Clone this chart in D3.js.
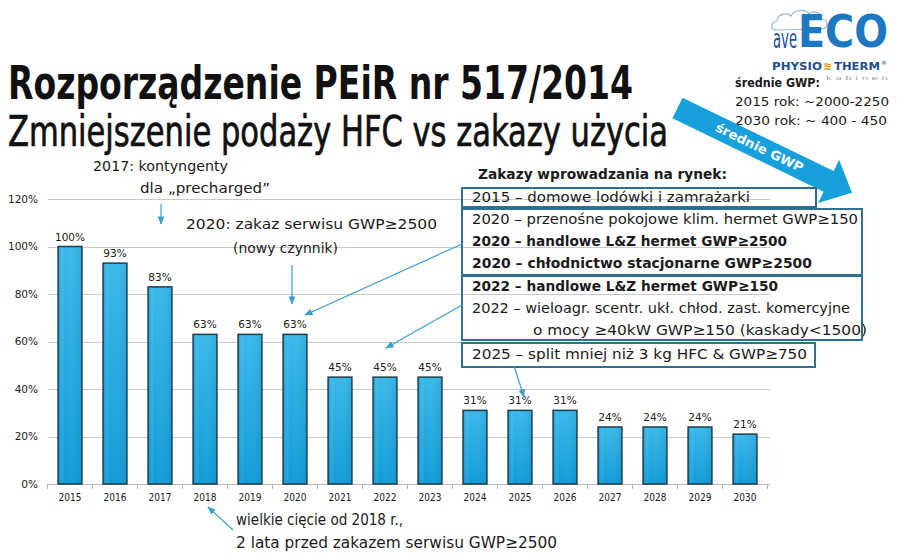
<!DOCTYPE html>
<html><head><meta charset="utf-8">
<script src="https://cdn.jsdelivr.net/npm/d3@7"></script>
<style>
html,body{margin:0;padding:0;background:#fff;}
svg{display:block;}
</style>
</head><body>
<svg id="c" width="900" height="557"></svg>
<script>
const years = ["2015","2016","2017","2018","2019","2020","2021","2022","2023","2024","2025","2026","2027","2028","2029","2030"];
const values = [100,93,83,63,63,63,45,45,45,31,31,31,24,24,24,21];
const yTicks = [0,20,40,60,80,100,120];
const titleLines = ["Rozporządzenie PEiR nr 517/2014","Zmniejszenie podaży HFC vs zakazy użycia"];
const gwpLines = ["średnie GWP:","2015 rok: ~2000-2250","2030 rok: ~ 400 - 450"];
const arrowLabel = "średnie GWP";
const banHeader = "Zakazy wprowadzania na rynek:";
const banBoxes = [
  [{t:"2015 – domowe lodówki i zamrażarki",b:false}],
  [{t:"2020 – przenośne pokojowe klim. hermet GWP≥150",b:false},{t:"2020 – handlowe L&Z hermet GWP≥2500",b:true},{t:"2020 – chłodnictwo stacjonarne GWP≥2500",b:true}],
  [{t:"2022 – handlowe L&Z hermet GWP≥150",b:true},{t:"2022 – wieloagr. scentr. ukł. chłod. zast. komercyjne",b:false},{t:"o mocy ≥40kW GWP≥150 (kaskady<1500)",b:false,indent:true}],
  [{t:"2025 – split mniej niż 3 kg HFC & GWP≥750",b:false}]
];
const note2017 = ["2017: kontyngenty","dla „precharged”"];
const note2020 = ["2020: zakaz serwisu GWP≥2500","(nowy czynnik)"];
const note2018 = ["wielkie cięcie od 2018 r.,","2 lata przed zakazem serwisu GWP≥2500"];

const svg = d3.select("#c");
const body = "'DejaVu Sans', 'Noto Sans', sans-serif";
const cond = "'DejaVu Sans Condensed', 'Liberation Sans Narrow', 'DejaVu Sans', sans-serif";
const ink = "#1a1a1a";
const calloutColor = "#3a9fcf";

const defs = svg.append("defs");
const grad = defs.append("linearGradient").attr("id","barg").attr("x1",0).attr("x2",0).attr("y1",0).attr("y2",1);
grad.append("stop").attr("offset","0%").attr("stop-color","#38b8ea");
grad.append("stop").attr("offset","100%").attr("stop-color","#0f9bd7");
const gradH = defs.append("linearGradient").attr("id","barh").attr("x1",0).attr("x2",1).attr("y1",0).attr("y2",0);
gradH.append("stop").attr("offset","0%").attr("stop-color","#1590c8").attr("stop-opacity",0.35);
gradH.append("stop").attr("offset","25%").attr("stop-color","#ffffff").attr("stop-opacity",0.0);
gradH.append("stop").attr("offset","100%").attr("stop-color","#0b6f9e").attr("stop-opacity",0.15);
defs.append("marker").attr("id","ah").attr("viewBox","0 0 10 10").attr("refX",9).attr("refY",5)
  .attr("markerWidth",7).attr("markerHeight",7).attr("orient","auto-start-reverse")
  .append("path").attr("d","M0,1 L10,5 L0,9 Z").attr("fill",calloutColor);

// scales
const x = d3.scaleBand().domain(years).range([47.5, 767.5]).paddingInner(0.47).paddingOuter(0.235);
const y = d3.scaleLinear().domain([0,120]).range([484,199]);

// gridlines
const grid = svg.append("g");
grid.selectAll("line").data(yTicks.filter(d=>d>0)).join("line")
  .attr("x1",47.5).attr("x2",770).attr("y1",d=>Math.round(y(d))+0.5).attr("y2",d=>Math.round(y(d))+0.5)
  .attr("stroke","#c9c9c9").attr("stroke-width",1);

// y axis labels
const yAxis = d3.axisLeft(y).tickValues(yTicks).tickFormat(d=>d+"%").tickSize(0).tickPadding(0);
const yg = svg.append("g").attr("transform","translate(38,0)").call(yAxis);
yg.select(".domain").remove();
yg.selectAll("text").attr("font-family",body).attr("font-size",10.5).attr("fill",ink);

// x axis
const xAxis = d3.axisBottom(x).tickSize(0).tickPadding(10);
const xg = svg.append("g").attr("transform","translate(0,484)").call(xAxis);
xg.select(".domain").attr("stroke","#b5b5b5").attr("d","M47.5,0.5H770");
xg.selectAll("text").attr("font-family",cond).attr("font-size",10).attr("fill",ink);
svg.append("g").selectAll("line").data(d3.range(years.length+1)).join("line")
  .attr("x1",i=>47.5+i*x.step()).attr("x2",i=>47.5+i*x.step())
  .attr("y1",484).attr("y2",489).attr("stroke","#b5b5b5");

// bars
const bars = svg.append("g");
bars.selectAll("rect.b").data(values).join("rect").attr("class","b")
  .attr("x",(d,i)=>x(years[i])).attr("width",x.bandwidth())
  .attr("y",d=>y(d)).attr("height",d=>y(0)-y(d))
  .attr("fill","url(#barg)").attr("stroke","#1d3d4d").attr("stroke-width",1.5);
bars.selectAll("rect.h").data(values).join("rect").attr("class","h")
  .attr("x",(d,i)=>x(years[i])+1).attr("width",x.bandwidth()-2)
  .attr("y",d=>y(d)+1).attr("height",d=>y(0)-y(d)-2)
  .attr("fill","url(#barh)");
bars.selectAll("text").data(values).join("text")
  .attr("x",(d,i)=>x(years[i])+x.bandwidth()/2).attr("y",d=>y(d)-6)
  .attr("text-anchor","middle").attr("font-family",body).attr("font-size",10.5).attr("fill",ink)
  .text(d=>d+"%");

function txt(g,str,xx,yy,opt){
  const t = g.append("text").attr("x",xx).attr("y",yy).text(str)
    .attr("font-family",opt.ff||body).attr("font-size",opt.fs||14)
    .attr("font-weight",opt.fw||"normal").attr("fill",opt.fill||ink);
  if(opt.w){ t.attr("textLength",opt.w).attr("lengthAdjust","spacingAndGlyphs"); }
  if(opt.anchor) t.attr("text-anchor",opt.anchor);
  if(opt.sw){ t.attr("stroke",opt.fill||ink).attr("stroke-width",opt.sw); }
  return t;
}

// Title
const tg = svg.append("g");
txt(tg,titleLines[0],8,99,{ff:cond,fs:46,fw:"bold",w:625,fill:"#111"});
txt(tg,titleLines[1],8,146,{ff:cond,fs:43,fw:"normal",w:660,fill:"#111",sw:0.7});

// logo
const lg = svg.append("g");
lg.append("path").attr("d","M777,30 C770,30 770,22 777,21 C777,14 787,12 791,16 C794,9 806,9 809,14 C813,10 822,12 821,19 C829,19 829,29 821,29 Z")
  .attr("fill","none").attr("stroke","#8fb9d9").attr("stroke-width",1.2);
txt(lg,"ave",773,48,{ff:cond,fs:27,fill:"#28509a",w:24});
txt(lg,"ECO",798,47,{ff:cond,fs:44,fw:"bold",fill:"#1c78c0",w:90});
txt(lg,"PHYSIO",772,70,{ff:cond,fs:11,fw:"bold",fill:"#22508c",w:50});
txt(lg,"≋",823,70,{ff:body,fs:11,fw:"bold",fill:"#e08a2a"});
txt(lg,"THERM",834,70,{ff:cond,fs:11,fw:"bold",fill:"#22508c",w:46});
txt(lg,"®",881,65,{ff:body,fs:6,fill:"#22508c"});
txt(lg,"k a b i n e n",826,80,{ff:body,fs:6,fill:"#a0a0a0",w:62});

// średnie GWP
const gg = svg.append("g");
txt(gg,gwpLines[0],735,87,{fs:12.5,fw:"bold",w:85});
txt(gg,gwpLines[1],735,106,{fs:12.5,w:154});
txt(gg,gwpLines[2],735,125,{fs:12.5,w:152});

// big blue arrow
(function(){
  const S=[677.5,108], ang=25.9*Math.PI/180, u=[Math.cos(ang),Math.sin(ang)], n=[-Math.sin(ang),Math.cos(ang)];
  const hw=11.5, hh=24, L0=168, L1=194;
  const P=(d,o)=>[S[0]+u[0]*d+n[0]*o, S[1]+u[1]*d+n[1]*o];
  const pts=[P(0,-hw),P(L0,-hw),P(L0,-hh),P(L1,0),P(L0,hh),P(L0,hw),P(0,hw)];
  svg.append("path").attr("d","M"+pts.map(p=>p.join(",")).join("L")+"Z").attr("fill","#17a0dc");
  const c=P(91,-0.5);
  svg.append("text").attr("transform",`translate(${c[0]},${c[1]}) rotate(${ang*180/Math.PI})`)
    .attr("text-anchor","middle").attr("dy","0.36em").attr("font-family",body).attr("font-weight","bold")
    .attr("font-size",12.5).attr("fill","#fff").attr("textLength",96).attr("lengthAdjust","spacingAndGlyphs")
    .text(arrowLabel);
})();

// right ban boxes
const bg = svg.append("g");
txt(bg,banHeader,478,179,{fs:14,fw:"bold",w:249});
const boxGeom = [
  {x0:462,x1:816,y0:188,y1:207,base:[202]},
  {x0:462,x1:862,y0:209,y1:275,base:[224,246,268]},
  {x0:462,x1:862,y0:276,y1:340,base:[291,313,335]},
  {x0:462,x1:815,y0:343,y1:367,base:[359]}
];
const widths = [[278],[386,315,340],[306,378,334],[335]];
banBoxes.forEach((lines,bi)=>{
  const g=boxGeom[bi];
  bg.append("rect").attr("x",g.x0).attr("y",g.y0).attr("width",g.x1-g.x0).attr("height",g.y1-g.y0)
    .attr("fill","none").attr("stroke","#2f6f8f").attr("stroke-width",2);
  lines.forEach((ln,li)=>{
    txt(bg,ln.t,ln.indent?533:472,g.base[li],{fs:14.5,fw:ln.b?"bold":"normal",w:widths[bi][li]});
  });
});

// annotations
const ag = svg.append("g");
txt(ag,note2017[0],93,171,{fs:14,w:135});
txt(ag,note2017[1],140,193,{fs:14,w:130});
txt(ag,note2020[0],186,229,{fs:14,w:251});
txt(ag,note2020[1],233,253,{fs:14,w:105});
txt(ag,note2018[0],236,525,{ff:cond,fs:16,w:167});
txt(ag,note2018[1],236,548,{ff:cond,fs:16,w:321});

function arrow(x1,y1,x2,y2){
  ag.append("line").attr("x1",x1).attr("y1",y1).attr("x2",x2).attr("y2",y2)
    .attr("stroke",calloutColor).attr("stroke-width",1.2).attr("marker-end","url(#ah)");
}
arrow(161,204,161,224);
arrow(292,265,292,304);
arrow(462,244,305,315);
arrow(462,305,386,348);
arrow(514,366,524,397);
arrow(233,530,208,507);
</script>
</body></html>
